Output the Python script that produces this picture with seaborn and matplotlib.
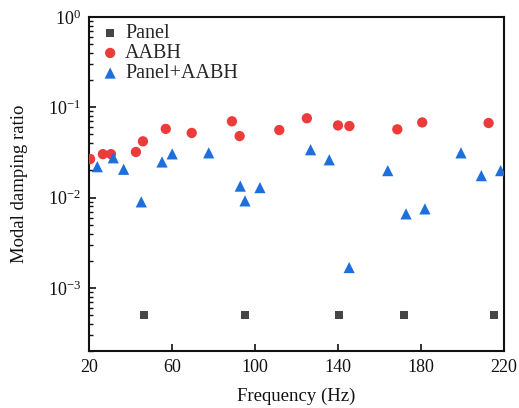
import numpy as np
import pandas as pd
import matplotlib
matplotlib.use("Agg")
import matplotlib.pyplot as plt
import matplotlib.ticker as mticker
import seaborn as sns

# Modal frequencies (Hz) and damping ratios for each configuration
panel_freq = [46.4, 95.2, 140.6, 171.8, 215.2]
panel_damp = [5e-4, 5e-4, 5e-4, 5e-4, 5e-4]

aabh_freq = [20.5, 26.7, 30.6, 42.6, 46.0, 57.0, 69.5, 88.9, 92.6, 111.7,
             125.0, 140.0, 145.5, 168.6, 180.6, 212.6]
aabh_damp = [0.0267, 0.0303, 0.0303, 0.032, 0.042, 0.0577, 0.052, 0.070, 0.048, 0.056,
             0.0756, 0.063, 0.062, 0.057, 0.068, 0.067]

combo_freq = [24.0, 31.7, 36.7, 45.2, 55.2, 60.1, 77.7, 92.9, 95.2, 102.4,
              126.8, 135.8, 145.4, 164.0, 172.8, 181.9, 199.3, 209.1, 218.4]
combo_damp = [0.022, 0.0276, 0.0206, 0.00897, 0.0248, 0.0305, 0.0313, 0.0134, 0.0092, 0.0129,
              0.0339, 0.0262, 0.00168, 0.0199, 0.0066, 0.0075, 0.0313, 0.0175, 0.0199]

x_ticks = [20, 60, 100, 140, 180, 220]

sns.set_theme(style="white")
plt.rcParams["font.family"] = ["Liberation Serif", "DejaVu Serif"]
plt.rcParams["mathtext.fontset"] = "custom"
plt.rcParams["mathtext.rm"] = "Liberation Serif"
plt.rcParams["mathtext.it"] = "Liberation Serif:italic"
plt.rcParams["mathtext.bf"] = "Liberation Serif:bold"

fig = plt.figure(figsize=(5.19, 4.08), dpi=100)
ax = fig.add_axes([0.1715, 0.1397, 0.7995, 0.8186])

panel = pd.DataFrame({"f": panel_freq, "d": panel_damp})
aabh = pd.DataFrame({"f": aabh_freq, "d": aabh_damp})
combo = pd.DataFrame({"f": combo_freq, "d": combo_damp})

sns.scatterplot(data=panel, x="f", y="d", marker="s", s=36, color="#464646",
                edgecolor="none", label="Panel", ax=ax, zorder=3)
sns.scatterplot(data=aabh, x="f", y="d", marker="o", s=55, color="#ec3b3b",
                edgecolor="none", label="AABH", ax=ax, zorder=3)
sns.scatterplot(data=combo, x="f", y="d", marker="^", s=65, color="#1c6fdc",
                edgecolor="none", label="Panel+AABH", ax=ax, zorder=3)

ax.set_yscale("log")
ax.set_xlim(20, 220)
ax.set_ylim(2e-4, 1)
ax.set_xticks(x_ticks)
ax.set_xticklabels([str(t) for t in x_ticks])
ax.yaxis.set_major_locator(mticker.LogLocator(base=10, numticks=10))
ax.yaxis.set_minor_locator(mticker.LogLocator(base=10, subs=np.arange(2, 10), numticks=20))
ax.yaxis.set_minor_formatter(mticker.NullFormatter())

ax.tick_params(axis="both", which="major", direction="in", length=5, width=1.2,
               labelsize=13, colors="#111111", pad=6, bottom=True, left=True,
               top=False, right=False)
ax.tick_params(axis="y", which="minor", direction="in", length=3, width=1.0,
               left=True, right=False, colors="#111111")
ax.tick_params(axis="x", which="minor", bottom=False, top=False)

for sp in ax.spines.values():
    sp.set_color("#111111")
    sp.set_linewidth(1.5)

ax.set_xlabel("Frequency (Hz)", fontsize=13.5, color="#111111", labelpad=8)
ax.set_ylabel("Modal damping ratio", fontsize=13.5, color="#111111", labelpad=14)

ax.legend(loc="upper left", frameon=False, fontsize=14.5, handlelength=1.0,
          handletextpad=0.25, borderaxespad=0.0, borderpad=0.2,
          labelspacing=0.05, markerscale=1.0, bbox_to_anchor=(0.017, 0.991))

fig.savefig("out.png", dpi=100)
